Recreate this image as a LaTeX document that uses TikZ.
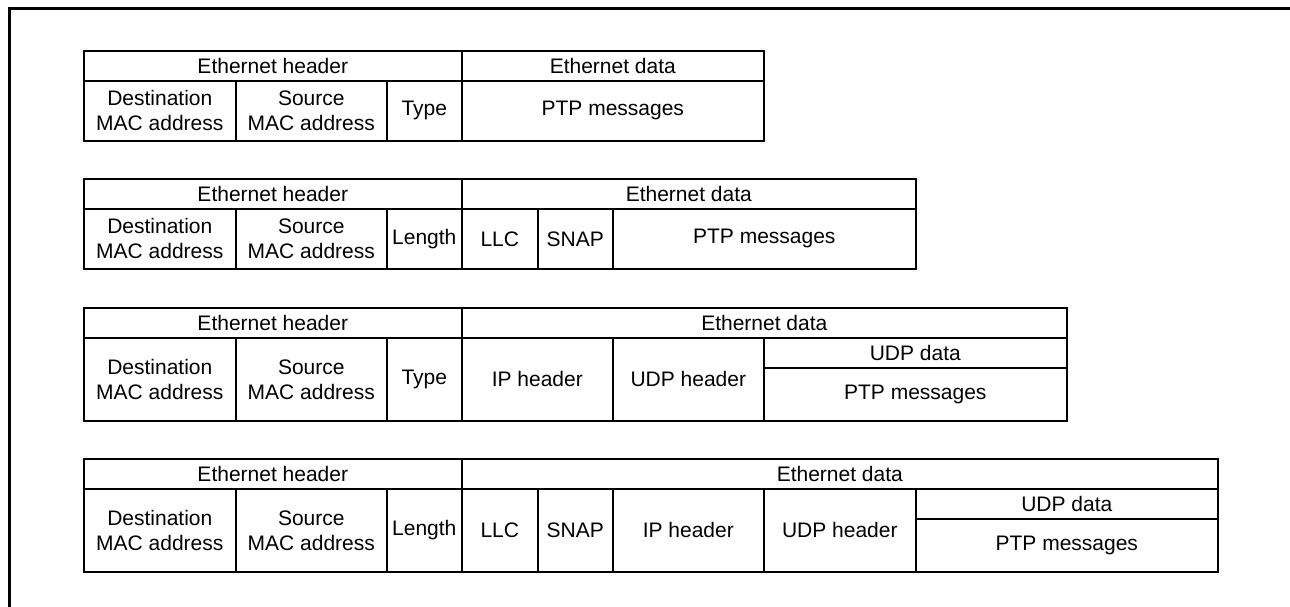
\documentclass[tikz,border=0pt]{standalone}
\usepackage{fontspec}
\setmainfont{Liberation Sans}
\begin{document}
\begin{tikzpicture}[x=1pt,y=-1pt,
  cell/.style={draw,line width=1.6pt,anchor=north west,inner sep=0pt,
    align=center,minimum height=60,font=\fontsize{21}{25}\selectfont},
  head/.style={cell,minimum height=30},
  tall/.style={cell,minimum height=83}]
\useasboundingbox (0,0) rectangle (1290,607);
% outer frame (only top and left edges show)
\draw[line width=3pt] (9,607) -- (9,9) -- (1290,9);

% plain Ethernet
\node[head,minimum width=378] (t1hdr) at (83,50) {Ethernet header};
\node[head,minimum width=302] (t1dat) at (461,50) {Ethernet data};
\node[cell,minimum width=152] (t1dst) at (83,80) {Destination\\MAC address};
\node[cell,minimum width=151] (t1src) at (235,80) {Source\\MAC address};
\node[cell,minimum width=75] (t1typ) at (386,80) {Type};
\node[cell,minimum width=302] (t1ptp) at (461,80) {PTP messages};

% Ethernet with LLC/SNAP
\node[head,minimum width=378] (t2hdr) at (83,178) {Ethernet header};
\node[head,minimum width=454] (t2dat) at (461,178) {Ethernet data};
\node[cell,minimum width=152] (t2dst) at (83,208) {Destination\\MAC address};
\node[cell,minimum width=151] (t2src) at (235,208) {Source\\MAC address};
\node[cell,minimum width=75] (t2len) at (386,208) {Length};
\node[cell,minimum width=76] (t2llc) at (461,208) {LLC};
\node[cell,minimum width=75] (t2snap) at (537,208) {SNAP};
\node[cell,minimum width=303] (t2ptp) at (612,208) {PTP messages};

% UDP/IP over Ethernet
\node[head,minimum width=378] (t3hdr) at (83,307) {Ethernet header};
\node[head,minimum width=605] (t3dat) at (461,307) {Ethernet data};
\node[tall,minimum width=152] (t3dst) at (83,337) {Destination\\MAC address};
\node[tall,minimum width=151] (t3src) at (235,337) {Source\\MAC address};
\node[tall,minimum width=75] (t3typ) at (386,337) {Type};
\node[tall,minimum width=151] (t3ip) at (461,337) {IP header};
\node[tall,minimum width=151] (t3udph) at (612,337) {UDP header};
\node[head,minimum width=303] (t3udpd) at (763,337) {UDP data};
\node[cell,minimum width=303,minimum height=53] (t3ptp) at (763,367) {PTP messages};

% UDP/IP over LLC/SNAP
\node[head,minimum width=378] (t4hdr) at (83,458) {Ethernet header};
\node[head,minimum width=756] (t4dat) at (461,458) {Ethernet data};
\node[tall,minimum width=152] (t4dst) at (83,488) {Destination\\MAC address};
\node[tall,minimum width=151] (t4src) at (235,488) {Source\\MAC address};
\node[tall,minimum width=75] (t4len) at (386,488) {Length};
\node[tall,minimum width=76] (t4llc) at (461,488) {LLC};
\node[tall,minimum width=75] (t4snap) at (537,488) {SNAP};
\node[tall,minimum width=151] (t4ip) at (612,488) {IP header};
\node[tall,minimum width=152] (t4udph) at (763,488) {UDP header};
\node[head,minimum width=302] (t4udpd) at (915,488) {UDP data};
\node[cell,minimum width=302,minimum height=53] (t4ptp) at (915,518) {PTP messages};
\end{tikzpicture}
\end{document}
